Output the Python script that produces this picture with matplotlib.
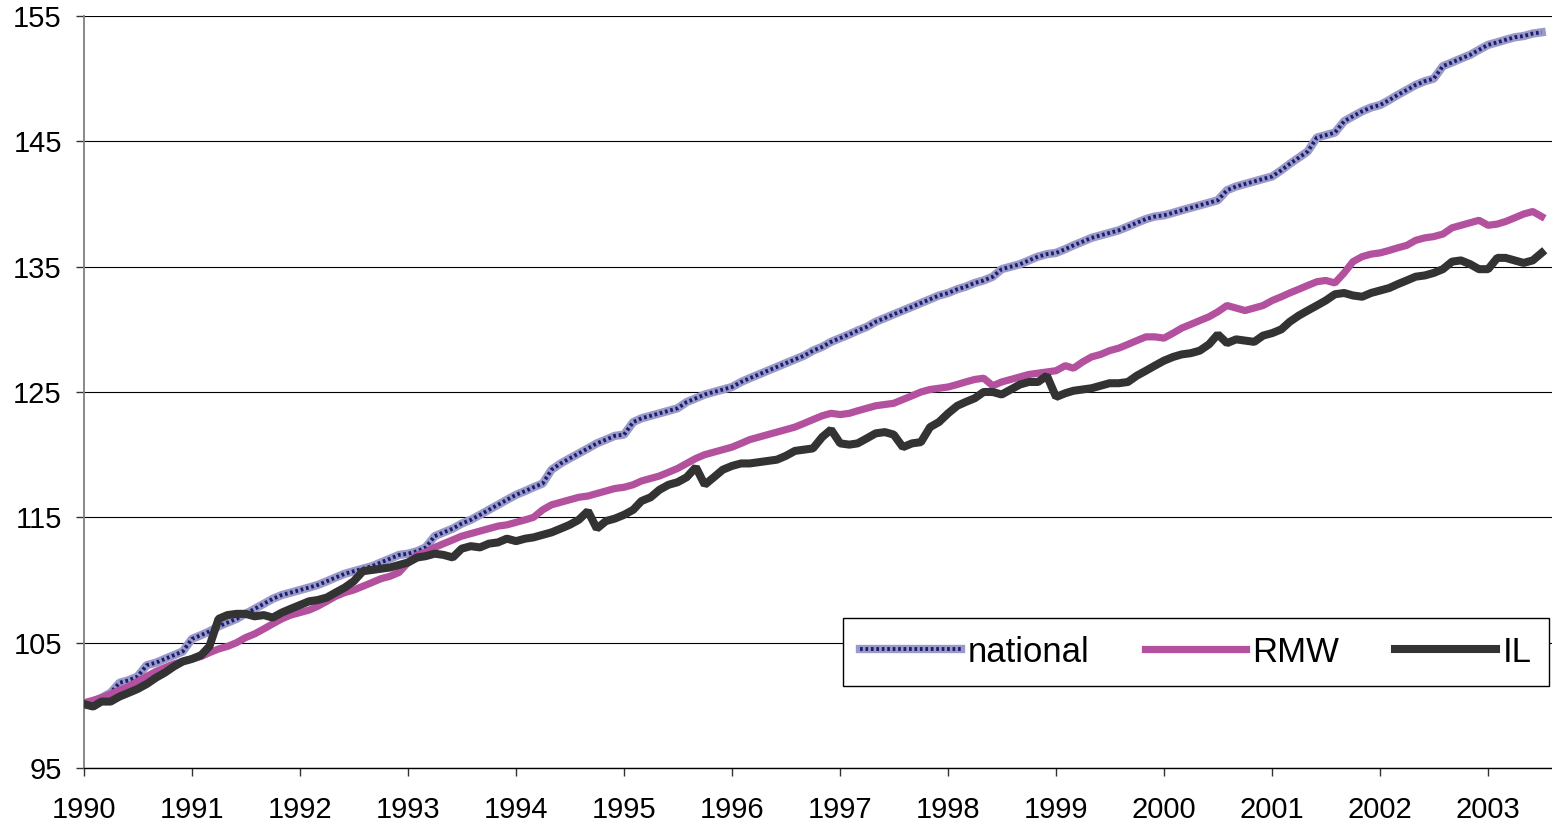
import pandas as pd
import matplotlib
matplotlib.use("Agg")
import matplotlib.pyplot as plt
import matplotlib.dates as mdates


# monthly index values, Jan 1990 .. Jul 2003
national = [
    100.0, 100.3, 100.6, 101.0, 101.8, 102.0, 102.3, 103.2, 103.4, 103.7, 104.0, 104.3,
    105.3, 105.6, 105.9, 106.3, 106.6, 106.9, 107.3, 107.7, 108.1, 108.5, 108.8, 109.0,
    109.2, 109.4, 109.6, 109.9, 110.2, 110.5, 110.7, 110.9, 111.1, 111.4, 111.7, 112.0,
    112.1, 112.3, 112.6, 113.5, 113.8, 114.1, 114.5, 114.8, 115.2, 115.6, 116.0, 116.4,
    116.8, 117.1, 117.4, 117.7, 118.8, 119.3, 119.7, 120.1, 120.5, 120.9, 121.2, 121.5,
    121.6, 122.6, 122.9, 123.1, 123.3, 123.5, 123.7, 124.2, 124.5, 124.8, 125.0, 125.2,
    125.4, 125.8, 126.1, 126.4, 126.7, 127.0, 127.3, 127.6, 127.9, 128.3, 128.6, 129.0,
    129.3, 129.6, 129.9, 130.2, 130.6, 130.9, 131.2, 131.5, 131.8, 132.1, 132.4, 132.7,
    132.9, 133.2, 133.4, 133.7, 133.9, 134.2, 134.8, 135.0, 135.2, 135.5, 135.8, 136.0,
    136.1, 136.4, 136.7, 137.0, 137.3, 137.5, 137.7, 137.9, 138.2, 138.5, 138.8, 139.0,
    139.1, 139.3, 139.5, 139.7, 139.9, 140.1, 140.3, 141.1, 141.4, 141.6, 141.8, 142.0,
    142.2, 142.7, 143.2, 143.7, 144.2, 145.3, 145.5, 145.7, 146.6, 147.0, 147.4, 147.7,
    147.9, 148.3, 148.7, 149.1, 149.5, 149.8, 150.0, 151.0, 151.3, 151.6, 151.9, 152.3,
    152.7, 152.9, 153.1, 153.3, 153.4, 153.6, 153.7,
]

rmw = [
    100.2, 100.4, 100.6, 100.9, 101.2, 101.5, 101.9, 102.3, 102.7, 103.0, 103.3, 103.5,
    103.7, 103.9, 104.2, 104.5, 104.7, 105.0, 105.4, 105.7, 106.1, 106.5, 106.9, 107.2,
    107.4, 107.6, 107.9, 108.3, 108.7, 109.0, 109.2, 109.5, 109.8, 110.1, 110.3, 110.6,
    111.4, 112.0, 112.2, 112.6, 112.9, 113.2, 113.5, 113.7, 113.9, 114.1, 114.3, 114.4,
    114.6, 114.8, 115.0, 115.6, 116.0, 116.2, 116.4, 116.6, 116.7, 116.9, 117.1, 117.3,
    117.4, 117.6, 117.9, 118.1, 118.3, 118.6, 118.9, 119.3, 119.7, 120.0, 120.2, 120.4,
    120.6, 120.9, 121.2, 121.4, 121.6, 121.8, 122.0, 122.2, 122.5, 122.8, 123.1, 123.3,
    123.2, 123.3, 123.5, 123.7, 123.9, 124.0, 124.1, 124.4, 124.7, 125.0, 125.2, 125.3,
    125.4, 125.6, 125.8, 126.0, 126.1, 125.5, 125.8, 126.0, 126.2, 126.4, 126.5, 126.6,
    126.7, 127.1, 126.9, 127.4, 127.8, 128.0, 128.3, 128.5, 128.8, 129.1, 129.4, 129.4,
    129.3, 129.7, 130.1, 130.4, 130.7, 131.0, 131.4, 131.9, 131.7, 131.5, 131.7, 131.9,
    132.3, 132.6, 132.9, 133.2, 133.5, 133.8, 133.9, 133.7, 134.5, 135.4, 135.8, 136.0,
    136.1, 136.3, 136.5, 136.7, 137.1, 137.3, 137.4, 137.6, 138.1, 138.3, 138.5, 138.7,
    138.3, 138.4, 138.6, 138.9, 139.2, 139.4, 139.0,
]

il = [
    100.1, 99.9, 100.3, 100.3, 100.7, 101.0, 101.3, 101.7, 102.2, 102.6, 103.1, 103.5,
    103.7, 104.0, 104.7, 106.9, 107.2, 107.3, 107.3, 107.1, 107.2, 107.0, 107.4, 107.7,
    108.0, 108.3, 108.4, 108.6, 109.0, 109.4, 109.9, 110.7, 110.8, 110.9, 111.0, 111.2,
    111.4, 111.8, 111.9, 112.1, 112.0, 111.8, 112.5, 112.7, 112.6, 112.9, 113.0, 113.3,
    113.1, 113.3, 113.4, 113.6, 113.8, 114.1, 114.4, 114.8, 115.5, 114.1, 114.7, 114.9,
    115.2, 115.6, 116.3, 116.6, 117.2, 117.6, 117.8, 118.2, 119.0, 117.6, 118.2, 118.8,
    119.1, 119.3, 119.3, 119.4, 119.5, 119.6, 119.9, 120.3, 120.4, 120.5, 121.4, 122.0,
    120.9, 120.8, 120.9, 121.3, 121.7, 121.8, 121.6, 120.6, 120.9, 121.0, 122.2, 122.6,
    123.3, 123.9, 124.2, 124.5, 125.0, 125.0, 124.8, 125.2, 125.6, 125.8, 125.8, 126.3,
    124.6, 124.9, 125.1, 125.2, 125.3, 125.5, 125.7, 125.7, 125.8, 126.3, 126.7, 127.1,
    127.5, 127.8, 128.0, 128.1, 128.3, 128.8, 129.6, 128.9, 129.2, 129.1, 129.0, 129.5,
    129.7, 130.0, 130.6, 131.1, 131.5, 131.9, 132.3, 132.8, 132.9, 132.7, 132.6, 132.9,
    133.1, 133.3, 133.6, 133.9, 134.2, 134.3, 134.5, 134.8, 135.4, 135.5, 135.2, 134.8,
    134.8, 135.7, 135.7, 135.5, 135.3, 135.5, 136.1,
]

labels = ["national", "RMW", "IL"]
y_ticks = [95, 105, 115, 125, 135, 145, 155]

months = pd.date_range("1990-01-01", periods=len(national), freq="MS")

plt.rcParams["font.family"] = ["Liberation Sans", "DejaVu Sans"]

fig = plt.figure(figsize=(15.52, 8.33), dpi=100)
ax = fig.add_axes([84 / 1552, 1 - 768 / 833, 1468 / 1552, 752 / 833])

# national: checkered band -> light base plus navy dots on top
nat_base, = ax.plot(months, national, color="#9a9ac8", lw=6,
                    solid_joinstyle="bevel", zorder=2)
nat_dots, = ax.plot(months, national, color="#1c1c70", lw=2.8,
                    dashes=(0.7, 0.7), zorder=2.1)
rmw_line, = ax.plot(months, rmw, color="#b3519e", lw=5.2,
                    solid_joinstyle="bevel", zorder=3)
il_line, = ax.plot(months, il, color="#333333", lw=5.8,
                   solid_joinstyle="bevel", zorder=4)

ax.set_ylim(95, 155)
ax.set_yticks(y_ticks)
ax.set_xlim(pd.Timestamp("1990-01-01"), pd.Timestamp("2003-08-05"))
ax.xaxis.set_major_locator(mdates.YearLocator())
ax.xaxis.set_major_formatter(mdates.DateFormatter("%Y"))

ax.yaxis.grid(True, color="black", lw=0.8)
ax.set_axisbelow(True)

for side in ["top", "right"]:
    ax.spines[side].set_visible(False)
ax.spines["left"].set_color("#7f7f7f")
ax.spines["left"].set_linewidth(1.3)
ax.spines["bottom"].set_color("black")
ax.spines["bottom"].set_linewidth(1.0)

ax.tick_params(axis="both", direction="out", length=6, width=1,
               color="#333333", labelsize=21)
ax.tick_params(axis="y", pad=10)
ax.tick_params(axis="x", pad=14)

leg = ax.legend(
    [(nat_base, nat_dots), rmw_line, il_line],
    labels,
    ncol=3,
    loc="lower right",
    bbox_to_anchor=(1549 / 1552, 1 - 686 / 833),
    bbox_transform=fig.transFigure,
    borderaxespad=0,
    fontsize=25,
    handlelength=2.9,
    handletextpad=0.2,
    columnspacing=1.6,
    borderpad=0.5,
    fancybox=False,
    framealpha=1,
    edgecolor="black",
)
leg.get_frame().set_linewidth(1.0)

fig.savefig("out.png", dpi=100)
